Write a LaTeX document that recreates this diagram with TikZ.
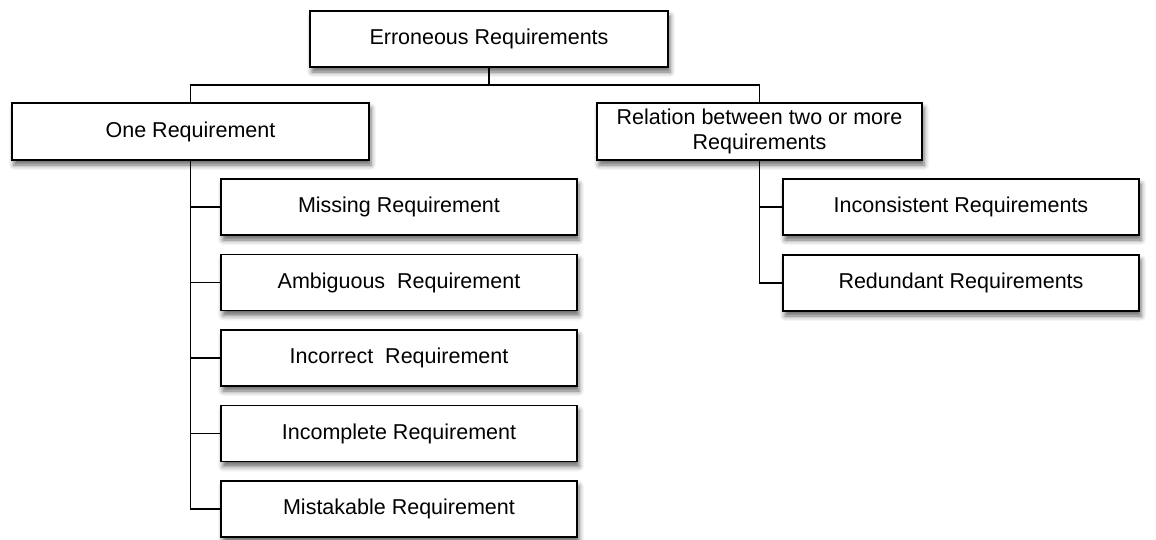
\documentclass[tikz,border=0pt]{standalone}
\usepackage{fontspec}
\setmainfont{Liberation Sans}
\usetikzlibrary{shadows.blur}
\begin{document}
\begin{tikzpicture}[x=1pt,y=-1pt,
  box/.style={draw=black, line width=1.4pt, fill=white, align=center,
    inner sep=0pt, font=\fontsize{21.5}{24.5}\selectfont,
    blur shadow={shadow xshift=2pt, shadow yshift=-5pt,
      shadow blur radius=5pt, shadow opacity=60}},
  kid/.style={box, minimum width=356pt, minimum height=56pt},
  link/.style={line width=1.4pt}]
\useasboundingbox (0,0) rectangle (1156,539);

% root and the two main branches
\node[box, minimum width=358pt, minimum height=56pt] (top) at (489,39) {Erroneous Requirements};
\node[box, minimum width=357pt, minimum height=57pt] (one) at (190.5,131.5) {One Requirement};
\node[box, minimum width=325pt, minimum height=57pt] (rel) at (759.5,131.5) {Relation between two or more\\Requirements};

% single-requirement errors
\node[kid] (miss) at (399,207)   {Missing Requirement};
\node[kid] (amb)  at (399,282.5) {Ambiguous\ \ Requirement};
\node[kid] (inc)  at (399,358)   {Incorrect\ \ Requirement};
\node[kid] (icp)  at (399,433.5) {Incomplete Requirement};
\node[kid] (mis)  at (399,509)   {Mistakable Requirement};

% relational errors
\node[kid] (cons) at (961,207)   {Inconsistent Requirements};
\node[kid] (red)  at (961,283)   {Redundant Requirements};

% tree connectors
\coordinate (bus) at (489,85);
\draw[link] (top.south) -- (bus);
\draw[link] (bus) -| (one.north);
\draw[link] (bus) -| (rel.north);
\foreach \c in {miss,amb,inc,icp,mis}
  \draw[link] (one.south) |- (\c.west);
\foreach \c in {cons,red}
  \draw[link] (rel.south) |- (\c.west);
\end{tikzpicture}
\end{document}
